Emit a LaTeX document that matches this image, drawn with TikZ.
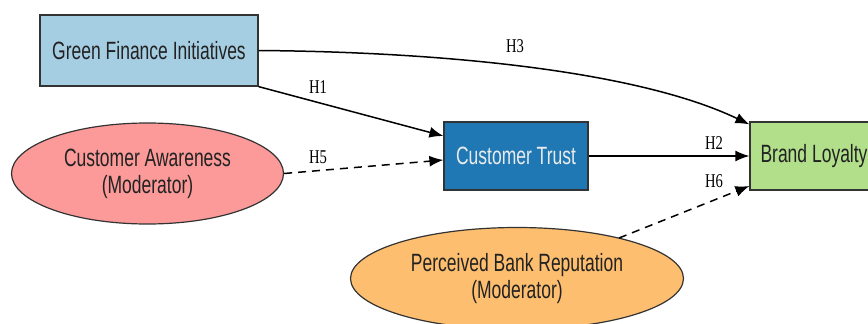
\documentclass[tikz,border=0pt]{standalone}
\usepackage{fontspec}
\setmainfont{Liberation Sans}[FakeStretch=0.7]
\newfontfamily\hypfont{Liberation Serif}[FakeStretch=0.75]
\usetikzlibrary{shapes.geometric,arrows.meta}
\definecolor{gfiblue}{HTML}{A6CEE3}
\definecolor{trustblue}{HTML}{1F78B4}
\definecolor{loyalgreen}{HTML}{B2DF8A}
\definecolor{awarered}{HTML}{FB9A99}
\definecolor{reporange}{HTML}{FDBF6F}
\definecolor{edgegray}{HTML}{333333}
\definecolor{textdark}{HTML}{222222}
\tikzset{
  construct/.style={rectangle, draw=edgegray, line width=1.2pt, inner sep=0pt,
    font=\fontsize{25}{27}\selectfont, text=textdark, align=center},
  moderator/.style={ellipse, draw=edgegray, line width=1.2pt, inner sep=0pt,
    font=\fontsize{25}{27}\selectfont, text=textdark, align=center},
  path/.style={line width=1.5pt, -{Latex[length=14pt,width=11pt]}},
  modpath/.style={path, dash pattern=on 8pt off 6pt},
  hyp/.style={font=\hypfont\fontsize{19.5}{20}\selectfont, text=black}
}
\begin{document}
\begin{tikzpicture}[x=1pt,y=-1pt]
  \useasboundingbox (0,0) rectangle (868,324);

  % constructs
  \node[construct, fill=gfiblue, minimum width=218pt, minimum height=71pt]
    (gfi) at (149,50.5) {Green Finance Initiatives};
  \node[construct, fill=trustblue, text=white!92!black, minimum width=144pt, minimum height=68pt]
    (ct) at (516,156) {Customer Trust};
  \node[construct, fill=loyalgreen, minimum width=128pt, minimum height=68pt]
    (bl) at (814,156) {Brand Loyalty};

  % moderators
  \node[moderator, fill=awarered, minimum width=272pt, minimum height=101pt]
    (ca) at (147.5,173.5) {Customer Awareness\\(Moderator)};
  \node[moderator, fill=reporange, minimum width=333pt, minimum height=102pt]
    (pbr) at (517,278.5) {Perceived Bank Reputation\\(Moderator)};

  % anchor points on the box edges (shifts are in page direction: + is up)
  \coordinate (gfiR) at (gfi.east);
  \coordinate (blTL) at ([yshift=-3pt]bl.north west);
  \coordinate (ctL1) at ([yshift=20pt]ct.west);
  \coordinate (ctL2) at ([yshift=-4pt]ct.west);
  \coordinate (blB) at ([yshift=-30pt]bl.west);
  \coordinate (pbrT) at (619,238);

  % hypothesised paths
  \draw[path] (gfiR) .. controls (450,52) and (640,72) .. (blTL);
  \draw[path] (gfi.south east) -- (ctL1);
  \draw[modpath] (ca.east) -- (ctL2);
  \draw[path] (ct.east) -- (bl.west);
  \draw[modpath] (pbrT) -- (blB);

  % hypothesis labels
  \node[hyp] (h3) at (515,46) {H3};
  \node[hyp] (h1) at (318,87) {H1};
  \node[hyp] (h5) at (318,157) {H5};
  \node[hyp] (h2) at (714,143) {H2};
  \node[hyp] (h6) at (714,181) {H6};
\end{tikzpicture}
\end{document}
